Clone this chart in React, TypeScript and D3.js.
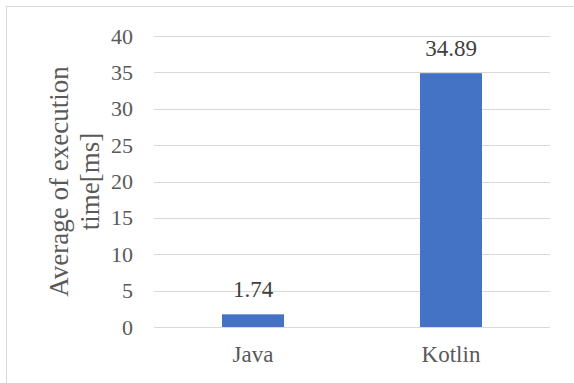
import React from "react";
import * as d3 from "d3";

const categories = ["Java", "Kotlin"];
const values = [1.74, 34.89];
const valueLabels = ["1.74", "34.89"];
const yTicks = [0, 5, 10, 15, 20, 25, 30, 35, 40];
const yTitleLines = ["Average of execution", "time[ms]"];

const W = 574;
const H = 383;
const plot = { left: 154, right: 550, top: 36, bottom: 327 };
const textColor = "#595959";
const gridColor = "#D9D9D9";
const barColor = "#4472C4";
const font = '"Liberation Serif", Tinos, "Times New Roman", Times, "DejaVu Serif", serif';
const style = (size: number): React.CSSProperties => ({ fontFamily: font, fontSize: `${size}px` });

export default function App() {
  const y = d3.scaleLinear().domain([0, 40]).range([plot.bottom, plot.top]);
  const gap = 0.687;
  const x = d3
    .scaleBand<string>()
    .domain(categories)
    .range([plot.left, plot.right])
    .paddingInner(gap)
    .paddingOuter(gap / 2);

  return (
    <div style={{ position: "fixed", left: 0, top: 0 }}>
      <svg width={W} height={H} style={{ display: "block", background: "#fff" }}>
        <rect x={6.5} y={6.5} width={W + 10} height={H + 10} fill="#fff" stroke={gridColor} strokeWidth={1} />
        {yTicks.map((t) => (
          <g key={t}>
            <line
              x1={plot.left}
              x2={plot.right}
              y1={Math.round(y(t)) + 0.5}
              y2={Math.round(y(t)) + 0.5}
              stroke={gridColor}
              strokeWidth={1.2}
            />
            <text x={133} y={y(t) + 7.5} textAnchor="end" style={style(22)} fill={textColor}>
              {t}
            </text>
          </g>
        ))}
        {categories.map((c, i) => (
          <g key={c}>
            <rect
              x={x(c)}
              y={y(values[i])}
              width={x.bandwidth()}
              height={y(0) - y(values[i])}
              fill={barColor}
            />
            <text
              x={(x(c) as number) + x.bandwidth() / 2}
              y={y(values[i]) - 17}
              textAnchor="middle"
              style={style(23)}
              fill="#404040"
            >
              {valueLabels[i]}
            </text>
            <text
              x={(x(c) as number) + x.bandwidth() / 2}
              y={362}
              textAnchor="middle"
              style={style(23)}
              fill={textColor}
            >
              {c}
            </text>
          </g>
        ))}
        <text
          transform={`translate(68,${(plot.top + plot.bottom) / 2}) rotate(-90)`}
          textAnchor="middle"
          style={style(27)}
          fill={textColor}
        >
          {yTitleLines.map((l, i) => (
            <tspan key={l} x={0} dy={i === 0 ? 0 : 31}>
              {l}
            </tspan>
          ))}
        </text>
      </svg>
    </div>
  );
}
